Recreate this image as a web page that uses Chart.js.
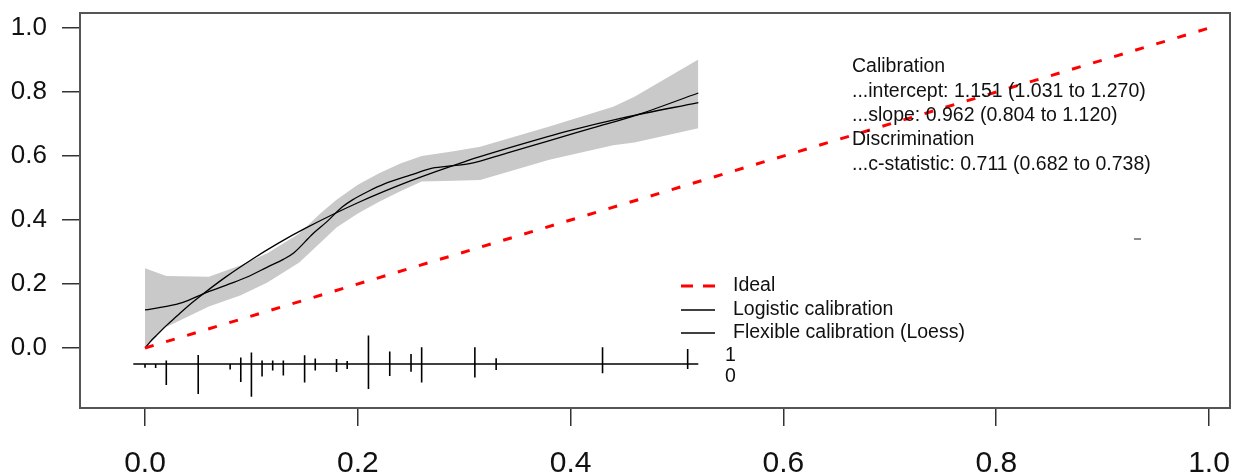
<!DOCTYPE html>
<html>
<head>
<meta charset="utf-8">
<script src="https://cdn.jsdelivr.net/npm/chart.js@4.4.1/dist/chart.umd.min.js"></script>
<style>
  html, body { margin: 0; padding: 0; background: #fff; }
  #wrap { width: 1243px; height: 475px; position: relative; }
</style>
</head>
<body>
<div id="wrap"><canvas id="graph1"></canvas></div>
<script>
// values
const idealX = [0, 1];
const idealY = [0, 1];

const logitX = [0, 0.005, 0.01, 0.02, 0.03, 0.04, 0.05, 0.075, 0.1, 0.125, 0.15, 0.2, 0.25, 0.3, 0.35, 0.4, 0.45, 0.52];
const logitY = [0, 0.02, 0.037, 0.07, 0.1, 0.13, 0.157, 0.22, 0.276, 0.327, 0.373, 0.454, 0.523, 0.582, 0.633, 0.68, 0.72, 0.767];

const loessX = [0, 0.02, 0.035, 0.058, 0.08, 0.096, 0.115, 0.13, 0.14, 0.158, 0.171, 0.185, 0.195, 0.21, 0.225, 0.25, 0.27, 0.29, 0.305, 0.34, 0.377, 0.42, 0.462, 0.52];
const loessY = [0.119, 0.13, 0.142, 0.174, 0.201, 0.222, 0.253, 0.277, 0.298, 0.358, 0.395, 0.44, 0.463, 0.49, 0.513, 0.541, 0.562, 0.57, 0.576, 0.609, 0.645, 0.687, 0.728, 0.797];

const bandX = [0, 0.02, 0.06, 0.09, 0.115, 0.145, 0.165, 0.18, 0.2, 0.22, 0.24, 0.26, 0.29, 0.315, 0.38, 0.44, 0.46, 0.52];
const bandUpper = [0.249, 0.225, 0.223, 0.259, 0.296, 0.358, 0.421, 0.463, 0.51, 0.546, 0.577, 0.6, 0.615, 0.629, 0.692, 0.754, 0.785, 0.902];
const bandLower = [0, 0.066, 0.13, 0.165, 0.205, 0.267, 0.33, 0.377, 0.42, 0.457, 0.49, 0.52, 0.523, 0.525, 0.588, 0.634, 0.642, 0.687];

// spike histogram: up = events (1), down = non events (0)
const spikeBase = -0.05;
const spikeRange = [-0.011, 0.52];
const spikeX = [0, 0.01, 0.02, 0.05, 0.08, 0.09, 0.1, 0.11, 0.12, 0.13, 0.15, 0.16, 0.18, 0.19, 0.21, 0.23, 0.25, 0.26, 0.31, 0.33, 0.43, 0.51];
const spikeUp = [0, 0, 0.011, 0.028, 0, 0.02, 0.036, 0.011, 0.011, 0.011, 0.027, 0.017, 0.016, 0.009, 0.089, 0.039, 0.031, 0.052, 0.052, 0.018, 0.052, 0.047];
const spikeDown = [0.0115, 0.0125, 0.066, 0.094, 0.017, 0.056, 0.102, 0.039, 0.02, 0.036, 0.058, 0.02, 0.025, 0.016, 0.078, 0.0375, 0.024, 0.058, 0.042, 0.019, 0.029, 0.016];

const xTicks = [0, 0.2, 0.4, 0.6, 0.8, 1.0];
const yTicks = [0, 0.2, 0.4, 0.6, 0.8, 1.0];

const statLines = [
  "Calibration",
  "...intercept: 1.151 (1.031 to 1.270)",
  "...slope: 0.962 (0.804 to 1.120)",
  "Discrimination",
  "...c-statistic: 0.711 (0.682 to 0.738)"
];
const legendLabels = ["Ideal", "Logistic calibration", "Flexible calibration (Loess)"];

const FONT = '"Liberation Sans", Arial, sans-serif';

function pts(xs, ys) {
  return xs.map((x, i) => ({ x: x, y: ys[i] }));
}

let spikePts = [];
spikeX.forEach((x, i) => {
  spikePts.push({ x: x, y: spikeBase + spikeUp[i] });
  spikePts.push({ x: x, y: spikeBase - spikeDown[i] });
  spikePts.push({ x: x, y: null });
});

// frame, legend and statistics text
const extras = {
  id: "extras",
  afterDraw(chart) {
    const ctx = chart.ctx;
    const a = chart.chartArea;
    ctx.save();
    ctx.strokeStyle = "#555";
    ctx.lineWidth = 2;
    ctx.strokeRect(a.left, a.top, a.right - a.left, a.bottom - a.top);

    ctx.fillStyle = "#111";
    ctx.font = "19.5px " + FONT;
    ctx.textBaseline = "middle";
    ctx.textAlign = "left";
    statLines.forEach((t, i) => {
      ctx.fillText(t, 852, 67 + i * 24.3);
    });

    // legend
    const ly = [286, 310, 333];
    ctx.lineWidth = 3;
    ctx.strokeStyle = "#ff0000";
    ctx.setLineDash([12, 10]);
    ctx.beginPath();
    ctx.moveTo(681, ly[0]);
    ctx.lineTo(715, ly[0]);
    ctx.stroke();
    ctx.setLineDash([]);
    ctx.lineWidth = 1.3;
    ctx.strokeStyle = "#000";
    [ly[1], ly[2]].forEach((y) => {
      ctx.beginPath();
      ctx.moveTo(681, y);
      ctx.lineTo(715, y);
      ctx.stroke();
    });
    legendLabels.forEach((t, i) => {
      ctx.fillText(t, 733, ly[i]);
    });

    ctx.fillText("1", 725, 356);
    ctx.fillText("0", 725, 377);

    ctx.strokeStyle = "#666";
    ctx.lineWidth = 1.5;
    ctx.beginPath();
    ctx.moveTo(1134, 239);
    ctx.lineTo(1141, 239);
    ctx.stroke();
    ctx.restore();
  }
};

const ctx = document.getElementById("graph1").getContext("2d");
const myChart = new Chart(ctx, {
  type: "line",
  data: {
    datasets: [
      {
        data: pts(bandX, bandUpper),
        borderWidth: 0,
        backgroundColor: "#c9c9c9",
        fill: "+1",
        pointRadius: 0,
        order: 5
      },
      {
        data: pts(bandX, bandLower),
        borderWidth: 0,
        backgroundColor: "#c9c9c9",
        fill: false,
        pointRadius: 0,
        order: 5
      },
      {
        data: pts(idealX, idealY),
        borderColor: "#ff0000",
        borderWidth: 3,
        borderDash: [9, 13],
        pointRadius: 0,
        order: 1
      },
      {
        data: pts(logitX, logitY),
        borderColor: "#000",
        borderWidth: 1.3,
        cubicInterpolationMode: "monotone",
        pointRadius: 0,
        order: 2
      },
      {
        data: pts(loessX, loessY),
        borderColor: "#000",
        borderWidth: 1.3,
        cubicInterpolationMode: "monotone",
        pointRadius: 0,
        order: 2
      },
      {
        data: pts(spikeRange, [spikeBase, spikeBase]),
        borderColor: "#000",
        borderWidth: 1.5,
        pointRadius: 0,
        order: 3
      },
      {
        data: spikePts,
        borderColor: "#000",
        borderWidth: 1.6,
        spanGaps: false,
        pointRadius: 0,
        order: 3
      }
    ]
  },
  options: {
    responsive: true,
    maintainAspectRatio: false,
    animation: false,
    layout: { padding: { top: 13, right: 13, left: 0, bottom: 0 } },
    plugins: {
      legend: { display: false },
      tooltip: { enabled: false }
    },
    scales: {
      x: {
        type: "linear",
        min: -0.0611,
        max: 1.0197,
        afterBuildTicks: (axis) => {
          axis.ticks = xTicks.map((v) => ({ value: v }));
        },
        afterFit: (scale) => {
          scale.height = 67;
          scale.paddingLeft = 0;
          scale.paddingRight = 0;
        },
        grid: { drawOnChartArea: false, tickLength: 18, color: "#333", lineWidth: 1.5 },
        border: { display: false },
        ticks: {
          autoSkip: false,
          maxRotation: 0,
          padding: 20,
          color: "#111",
          font: { family: FONT, size: 30 },
          callback: (v) => v.toFixed(1)
        }
      },
      y: {
        type: "linear",
        min: -0.1875,
        max: 1.047,
        afterBuildTicks: (axis) => {
          axis.ticks = yTicks.map((v) => ({ value: v }));
        },
        afterFit: (scale) => {
          scale.width = 80;
          scale.paddingTop = 0;
          scale.paddingBottom = 0;
        },
        grid: { drawOnChartArea: false, tickLength: 18, color: "#333", lineWidth: 1.5 },
        border: { display: false },
        ticks: {
          autoSkip: false,
          padding: 15,
          color: "#111",
          font: { family: FONT, size: 26 },
          callback: (v) => v.toFixed(1)
        }
      }
    }
  },
  plugins: [extras]
});
</script>
</body>
</html>
